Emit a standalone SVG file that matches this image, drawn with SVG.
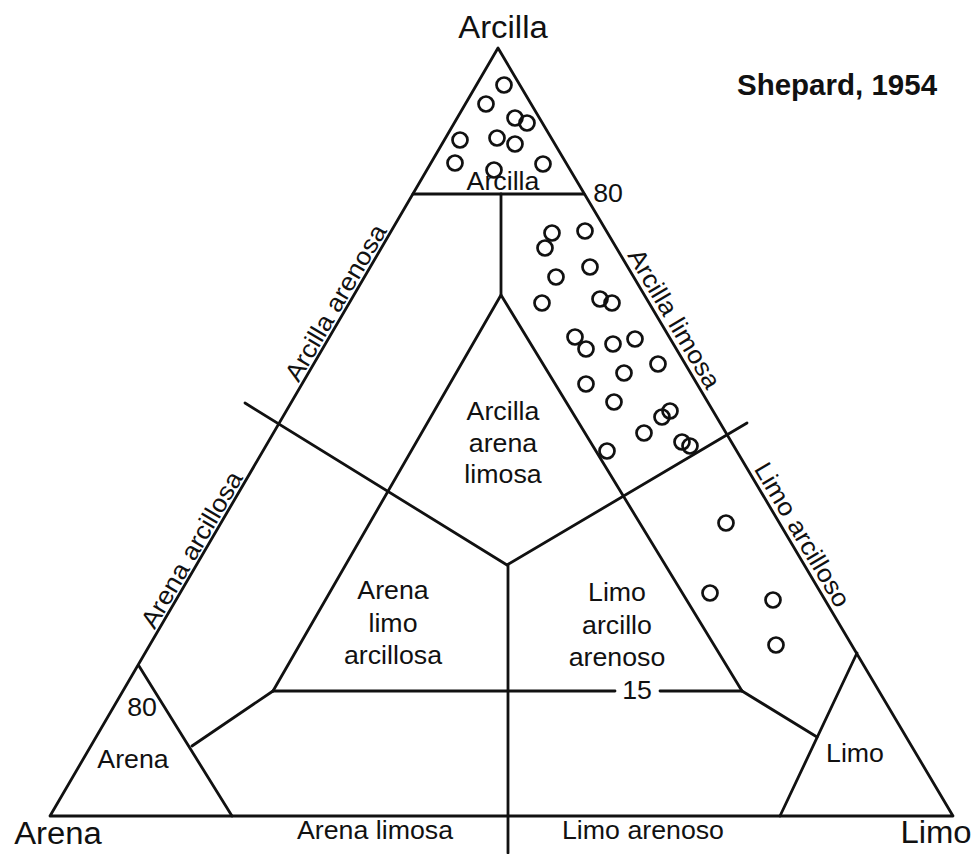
<svg xmlns="http://www.w3.org/2000/svg" width="976" height="854" viewBox="0 0 976 854">
<style>
.ln{fill:none;stroke:#111;stroke-width:2.8;stroke-linecap:round;stroke-linejoin:round}
.pt{fill:none;stroke:#111;stroke-width:2.7}
.t{font-family:"Liberation Sans",Arial,sans-serif;font-size:25px;fill:#111;text-anchor:middle}
.big{font-size:31px}
.b{font-family:"Liberation Sans",Arial,sans-serif;font-weight:bold;font-size:29.5px;fill:#111}
</style>
<rect width="976" height="854" fill="#fff"/>
<g id="connectors">
<polygon class="ln" points="498,48 50,816 953,816"/>
<line class="ln" x1="413" y1="194" x2="584" y2="194"/>
<line class="ln" x1="501" y1="194" x2="501" y2="295"/>
<polyline class="ln" points="273,691 501,295 742,691"/>
<line class="ln" x1="273" y1="691" x2="615" y2="691"/>
<line class="ln" x1="660" y1="691" x2="742" y2="691"/>
<polyline class="ln" points="245,403 507,565 747,423"/>
<line class="ln" x1="508" y1="565" x2="508" y2="853"/>
<line class="ln" x1="139" y1="666" x2="232" y2="816"/>
<line class="ln" x1="192" y1="746" x2="273" y2="691"/>
<line class="ln" x1="857" y1="653" x2="780" y2="816"/>
<line class="ln" x1="742" y1="691" x2="817" y2="737"/>
</g>
<g id="points">
<circle class="pt" cx="504" cy="85" r="7.5"/>
<circle class="pt" cx="486" cy="104" r="7.5"/>
<circle class="pt" cx="515" cy="118" r="7.5"/>
<circle class="pt" cx="527" cy="123" r="7.5"/>
<circle class="pt" cx="460" cy="140" r="7.5"/>
<circle class="pt" cx="497" cy="138" r="7.5"/>
<circle class="pt" cx="515" cy="144" r="7.5"/>
<circle class="pt" cx="455" cy="163" r="7.5"/>
<circle class="pt" cx="494" cy="170" r="7.5"/>
<circle class="pt" cx="543" cy="164" r="7.5"/>
<circle class="pt" cx="552" cy="233" r="7.5"/>
<circle class="pt" cx="545" cy="248" r="7.5"/>
<circle class="pt" cx="585" cy="231" r="7.5"/>
<circle class="pt" cx="556" cy="277" r="7.5"/>
<circle class="pt" cx="590" cy="267" r="7.5"/>
<circle class="pt" cx="542" cy="303" r="7.5"/>
<circle class="pt" cx="600" cy="299" r="7.5"/>
<circle class="pt" cx="612" cy="303" r="7.5"/>
<circle class="pt" cx="575" cy="337" r="7.5"/>
<circle class="pt" cx="586" cy="349" r="7.5"/>
<circle class="pt" cx="613" cy="344" r="7.5"/>
<circle class="pt" cx="635" cy="339" r="7.5"/>
<circle class="pt" cx="658" cy="364" r="7.5"/>
<circle class="pt" cx="624" cy="373" r="7.5"/>
<circle class="pt" cx="586" cy="384" r="7.5"/>
<circle class="pt" cx="614" cy="402" r="7.5"/>
<circle class="pt" cx="670" cy="411" r="7.5"/>
<circle class="pt" cx="662" cy="417" r="7.5"/>
<circle class="pt" cx="644" cy="433" r="7.5"/>
<circle class="pt" cx="682" cy="442" r="7.5"/>
<circle class="pt" cx="690" cy="446" r="7.5"/>
<circle class="pt" cx="607" cy="451" r="7.5"/>
<circle class="pt" cx="726" cy="523" r="7.5"/>
<circle class="pt" cx="710" cy="593" r="7.5"/>
<circle class="pt" cx="773" cy="600" r="7.5"/>
<circle class="pt" cx="776" cy="645" r="7.5"/>
</g>
<g id="labels">
<text class="t big" transform="translate(503,38) scale(1.06,1)">Arcilla</text>
<text class="t big" transform="translate(58,844) scale(1.06,1)">Arena</text>
<text class="t big" transform="translate(936,843) scale(1.06,1)">Limo</text>
<text class="b" x="737" y="95">Shepard, 1954</text>
<text class="t" transform="translate(503,190) scale(1.07,1)">Arcilla</text>
<text class="t" transform="translate(608,202) scale(1.07,1)">80</text>
<text class="t" transform="translate(142,716) scale(1.07,1)">80</text>
<text class="t" transform="translate(133,768) scale(1.07,1)">Arena</text>
<text class="t" transform="translate(855,762) scale(1.07,1)">Limo</text>
<text class="t" transform="translate(637,699) scale(1.07,1)">15</text>
<text class="t" transform="translate(375,839) scale(1.07,1)">Arena limosa</text>
<text class="t" transform="translate(643,839) scale(1.07,1)">Limo arenoso</text>
<text class="t" transform="translate(503,420) scale(1.07,1)">Arcilla</text>
<text class="t" transform="translate(503,452) scale(1.07,1)">arena</text>
<text class="t" transform="translate(503,483) scale(1.07,1)">limosa</text>
<text class="t" transform="translate(393,599) scale(1.07,1)">Arena</text>
<text class="t" transform="translate(393,632) scale(1.07,1)">limo</text>
<text class="t" transform="translate(393,664) scale(1.07,1)">arcillosa</text>
<text class="t" transform="translate(617,601) scale(1.07,1)">Limo</text>
<text class="t" transform="translate(617,634) scale(1.07,1)">arcillo</text>
<text class="t" transform="translate(617,666) scale(1.07,1)">arenoso</text>
<text class="t" transform="translate(343,307) rotate(-59.7) scale(1.07,1)">Arcilla arenosa</text>
<text class="t" transform="translate(199,554) rotate(-59.7) scale(1.07,1)">Arena arcillosa</text>
<text class="t" transform="translate(667,323) rotate(59.4) scale(1.07,1)">Arcilla limosa</text>
<text class="t" transform="translate(795,539) rotate(59.4) scale(1.07,1)">Limo arcilloso</text>
</g>
</svg>
